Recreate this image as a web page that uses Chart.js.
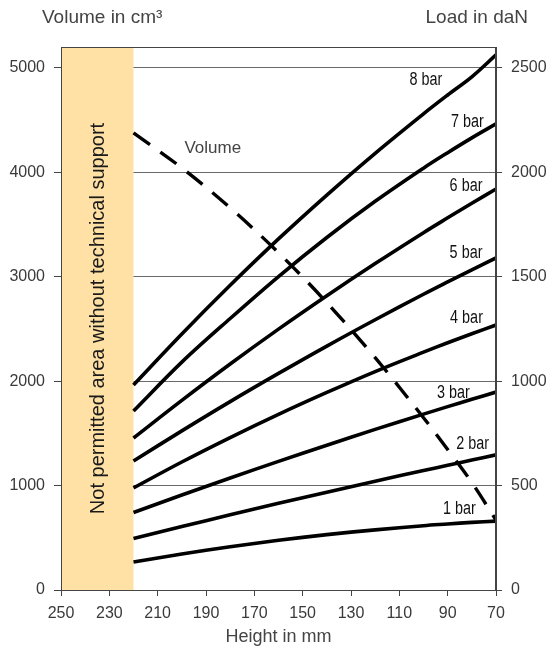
<!DOCTYPE html>
<html><head><meta charset="utf-8">
<script src="https://cdn.jsdelivr.net/npm/chart.js@4.4.1/dist/chart.umd.min.js"></script>
<style>html,body{margin:0;padding:0;background:#fff}#wrap{width:548px;height:648px;position:relative}</style>
</head><body><div id="wrap"><canvas id="c" width="548" height="648"></canvas></div>
<script>
// ---- data ----
const heights   = [220, 200, 180, 160, 140, 120, 100, 90, 80, 70];          // Height in mm
const load1bar  = [134, 172, 207, 238, 265, 288, 308, 316, 324, 330];       // Load in daN
const load2bar  = [247, 304, 360, 415, 468, 521, 572, 597, 622, 647];
const load3bar  = [371, 455, 536, 616, 693, 769, 842, 878, 913, 948];
const load4bar  = [489, 613, 730, 841, 946, 1046, 1139, 1184, 1227, 1269];
const load5bar  = [618, 762, 902, 1037, 1168, 1294, 1416, 1475, 1533, 1590];
const load6bar  = [728, 908, 1082, 1249, 1409, 1563, 1711, 1782, 1852, 1920];
const load7bar  = [857, 1091, 1300, 1501, 1688, 1861, 2020, 2094, 2165, 2232];
const load8bar  = [982, 1226, 1459, 1681, 1891, 2091, 2280, 2370, 2457, 2562];
const volume    = [4377, 4042, 3660, 3230, 2752, 2225, 1650, 1345, 1029, 670]; // Volume in cm³
const pressureNames = ['1 bar','2 bar','3 bar','4 bar','5 bar','6 bar','7 bar','8 bar'];
const heightTicks = [250, 230, 210, 190, 170, 150, 130, 110, 90, 70];
const volumeTicks = [0, 1000, 2000, 3000, 4000, 5000];
const loadTicks   = [0, 500, 1000, 1500, 2000, 2500];
const blockedZone = [250, 220];   // Not permitted area (mm)
const blockedText = 'Not permitted area without technical support';
// label anchors in data units (height mm, load daN)
const labelAnchors = [[85.1, 388], [79.7, 699], [87.6, 945], [82.2, 1303], [82.4, 1614], [82.4, 1932], [81.8, 2243], [99.0, 2443]];
const volumeLabelAnchor = [187.2, 4234];

const loadSeries = [load1bar, load2bar, load3bar, load4bar, load5bar, load6bar, load7bar, load8bar];
const pts = arr => heights.map((h, i) => ({x: h, y: arr[i]}));

const datasets = loadSeries.map((s, i) => ({
  label: pressureNames[i], data: pts(s), yAxisID: 'y1',
  borderColor: '#000', borderWidth: 3.6, pointRadius: 0, tension: 0.35, fill: false
}));
datasets.push({
  label: 'Volume', data: pts(volume), yAxisID: 'y',
  borderColor: '#000', borderWidth: 3.4, borderDash: [20, 13], pointRadius: 0, tension: 0.35, fill: false
});

const FONT = '"Liberation Sans", Arial, Helvetica, sans-serif';
const plain = v => String(v);

const overlay = {
  id: 'overlay',
  beforeDatasetsDraw(chart) {
    const {ctx, chartArea: a, scales: {x}} = chart;
    const x0 = x.getPixelForValue(blockedZone[0]), x1 = x.getPixelForValue(blockedZone[1]);
    ctx.save();
    ctx.fillStyle = '#FFE1A5';
    ctx.fillRect(Math.min(x0, x1), a.top, Math.abs(x1 - x0), a.bottom - a.top);
    ctx.translate((x0 + x1) / 2 + 1, (a.top + a.bottom) / 2);
    ctx.rotate(-Math.PI / 2);
    ctx.fillStyle = '#1a1a1a';
    ctx.font = '20px ' + FONT;
    ctx.textAlign = 'center'; ctx.textBaseline = 'middle';
    ctx.fillText(blockedText, 0, 0);
    ctx.restore();
  },
  afterDatasetsDraw(chart) {
    const {ctx, chartArea: a, scales: {x, y, y1}} = chart;
    ctx.save();
    ctx.strokeStyle = '#444'; ctx.lineWidth = 1;
    ctx.strokeRect(a.left + 0.5, a.top + 0.5, a.right - a.left - 1, a.bottom - a.top);
    ctx.fillStyle = '#111';
    ctx.font = '18px ' + FONT;
    ctx.textAlign = 'center'; ctx.textBaseline = 'middle';
    labelAnchors.forEach((p, i) => {
      ctx.save();
      ctx.translate(x.getPixelForValue(p[0]), y1.getPixelForValue(p[1]));
      ctx.scale(0.8, 1);
      ctx.fillText(pressureNames[i], 0, 0);
      ctx.restore();
    });
    ctx.fillStyle = '#444';
    ctx.font = '17px ' + FONT;
    ctx.fillText('Volume', x.getPixelForValue(volumeLabelAnchor[0]), y.getPixelForValue(volumeLabelAnchor[1]));
    ctx.font = '19px ' + FONT;
    ctx.textAlign = 'left';
    ctx.fillText('Volume in cm³', 42, 18);
    ctx.textAlign = 'right';
    ctx.fillText('Load in daN', 528, 18);
    ctx.restore();
  }
};

new Chart(document.getElementById('c'), {
  type: 'line',
  data: {datasets},
  options: {
    responsive: false, animation: false,
    layout: {padding: {top: 47, left: 0, right: 0, bottom: 0}},
    plugins: {legend: {display: false}, tooltip: {enabled: false}},
    scales: {
      x: {
        type: 'linear', reverse: true, min: 70, max: 250,
        afterBuildTicks: s => { s.ticks = heightTicks.map(v => ({value: v})); },
        afterFit: s => { s.height = 58; },
        grid: {drawOnChartArea: false, drawTicks: true, tickLength: 6, color: '#444', tickColor: '#444'},
        border: {display: true, color: '#444'},
        ticks: {padding: 8, color: '#3a3a3a', font: {family: FONT, size: 16}, maxRotation: 0, autoSkip: false, callback: plain},
        title: {display: true, text: 'Height in mm', color: '#444', font: {family: FONT, size: 18}, padding: {top: 0, bottom: 0}}
      },
      y: {
        position: 'left', min: 0, max: 5200,
        afterBuildTicks: s => { s.ticks = volumeTicks.map(v => ({value: v})); },
        afterFit: s => { s.width = 61; },
        grid: {drawOnChartArea: true, drawTicks: true, tickLength: 7, color: '#6a6a6a', tickColor: '#444'},
        border: {display: true, color: '#444'},
        ticks: {padding: 9, color: '#3a3a3a', font: {family: FONT, size: 16}, callback: plain}
      },
      y1: {
        position: 'right', min: 0, max: 2600,
        afterBuildTicks: s => { s.ticks = loadTicks.map(v => ({value: v})); },
        afterFit: s => { s.width = 52; },
        grid: {drawOnChartArea: false, drawTicks: true, tickLength: 6, color: '#444', tickColor: '#444'},
        border: {display: true, color: '#444'},
        ticks: {padding: 9, color: '#3a3a3a', font: {family: FONT, size: 16}, callback: plain}
      }
    }
  },
  plugins: [overlay]
});
</script>
</body></html>
